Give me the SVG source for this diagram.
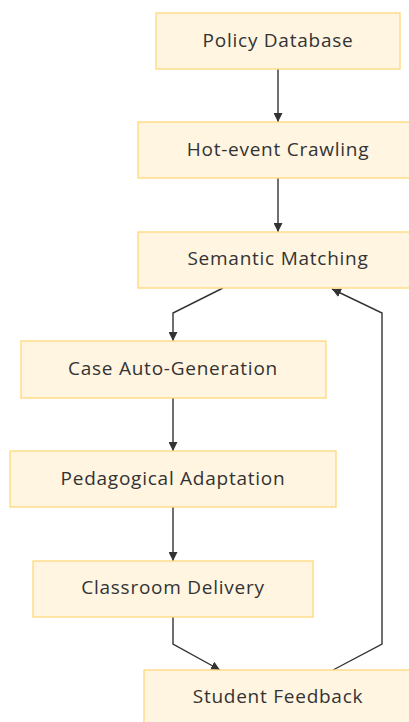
<svg xmlns="http://www.w3.org/2000/svg" width="409" height="722" viewBox="0 0 409 722">
  <style>
    .box { fill: #fff5e1; stroke: #ffd878; stroke-width: 1.3; }
    .lbl { font-family: "Open Sans", "Noto Sans", sans-serif; font-size: 19px; letter-spacing: 0.75px; fill: #333333; text-anchor: middle; dominant-baseline: central; }
    .edge { fill: none; stroke: #333333; stroke-width: 1.4; }
  </style>
  <defs>
    <marker id="arrow" viewBox="0 0 10 10" refX="10" refY="5" markerWidth="9" markerHeight="9" markerUnits="userSpaceOnUse" orient="auto">
      <path d="M0,0 L10,5 L0,10 Z" fill="#333333"/>
    </marker>
  </defs>
  <rect width="409" height="722" fill="#ffffff"/>

  <g id="edges">
    <path class="edge" d="M278,69 L278,122" marker-end="url(#arrow)"/>
    <path class="edge" d="M278,178 L278,232" marker-end="url(#arrow)"/>
    <path class="edge" d="M223,288 L173,313 L173,341" marker-end="url(#arrow)"/>
    <path class="edge" d="M173,398 L173,451" marker-end="url(#arrow)"/>
    <path class="edge" d="M173,507 L173,561" marker-end="url(#arrow)"/>
    <path class="edge" d="M173,617 L173,644 L220,670" marker-end="url(#arrow)"/>
    <path class="edge" d="M333,670 L382,644 L382,313 L332,289" marker-end="url(#arrow)"/>
  </g>

  <g id="policy-database">
    <rect class="box" x="156" y="13" width="244" height="56"/>
    <text class="lbl" x="278" y="40">Policy Database</text>
  </g>
  <g id="hot-event-crawling">
    <rect class="box" x="138" y="122" width="280" height="56"/>
    <text class="lbl" x="278" y="149">Hot-event Crawling</text>
  </g>
  <g id="semantic-matching">
    <rect class="box" x="138" y="232" width="280" height="56"/>
    <text class="lbl" x="278" y="258">Semantic Matching</text>
  </g>
  <g id="case-auto-generation">
    <rect class="box" x="21" y="341" width="305" height="57"/>
    <text class="lbl" x="173" y="368">Case Auto-Generation</text>
  </g>
  <g id="pedagogical-adaptation">
    <rect class="box" x="10" y="451" width="326" height="56"/>
    <text class="lbl" x="173" y="478">Pedagogical Adaptation</text>
  </g>
  <g id="classroom-delivery">
    <rect class="box" x="33" y="561" width="280" height="56"/>
    <text class="lbl" x="173" y="587">Classroom Delivery</text>
  </g>
  <g id="student-feedback">
    <rect class="box" x="144" y="670" width="268" height="56"/>
    <text class="lbl" x="278" y="696">Student Feedback</text>
  </g>
</svg>
